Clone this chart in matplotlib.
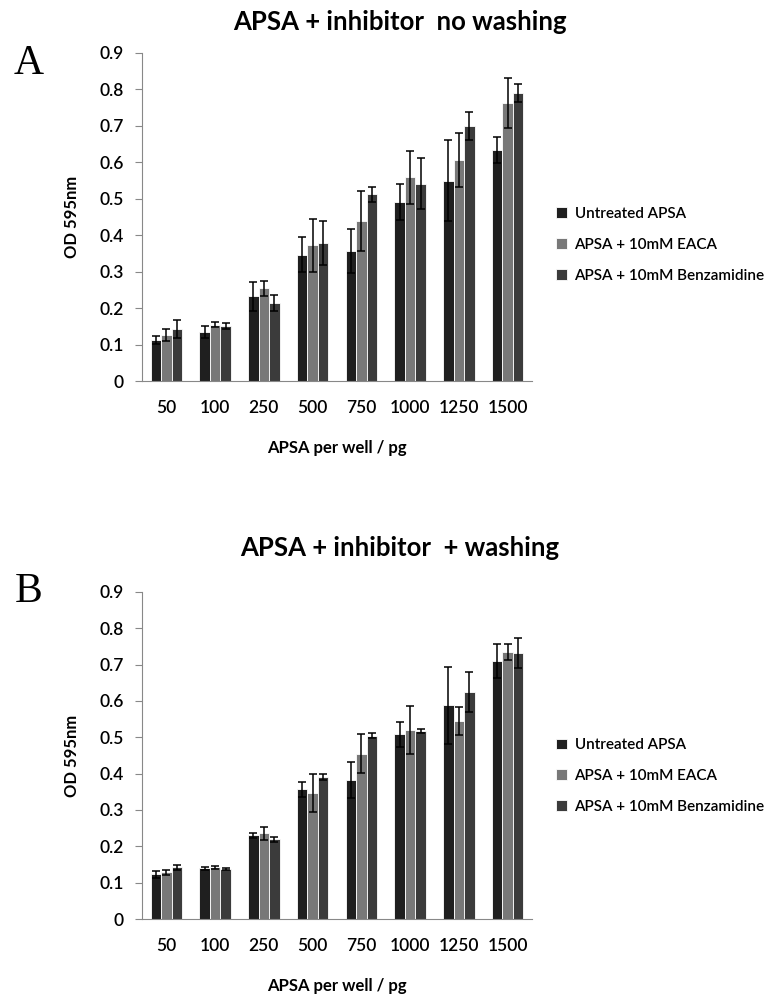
import numpy as np
import matplotlib.pyplot as plt

# dados
doses = ['50', '100', '250', '500', '750', '1000', '1250', '1500']
series = ['Untreated APSA', 'APSA + 10mM EACA', 'APSA + 10mM Benzamidine']
colors = ['#1f1f1f', '#787878', '#3b3b3b']

# painel A: sem lavagem
a_untreated = [0.112, 0.135, 0.233, 0.347, 0.357, 0.491, 0.550, 0.634]
a_eaca = [0.126, 0.155, 0.254, 0.372, 0.439, 0.559, 0.606, 0.763]
a_benz = [0.143, 0.150, 0.214, 0.379, 0.512, 0.541, 0.700, 0.790]
a_untreated_err = [0.011, 0.017, 0.040, 0.049, 0.060, 0.049, 0.112, 0.036]
a_eaca_err = [0.017, 0.006, 0.021, 0.073, 0.083, 0.072, 0.075, 0.069]
a_benz_err = [0.024, 0.008, 0.022, 0.060, 0.021, 0.070, 0.038, 0.024]

# painel B: com lavagem
b_untreated = [0.123, 0.140, 0.230, 0.357, 0.383, 0.508, 0.588, 0.711]
b_eaca = [0.128, 0.142, 0.236, 0.346, 0.455, 0.520, 0.545, 0.734]
b_benz = [0.142, 0.138, 0.219, 0.391, 0.505, 0.517, 0.625, 0.732]
b_untreated_err = [0.009, 0.004, 0.008, 0.020, 0.049, 0.035, 0.105, 0.047]
b_eaca_err = [0.007, 0.004, 0.018, 0.052, 0.054, 0.065, 0.039, 0.022]
b_benz_err = [0.006, 0.003, 0.006, 0.009, 0.008, 0.006, 0.054, 0.042]

plt.rcParams['font.family'] = ['Lato', 'DejaVu Sans']

fig = plt.figure(figsize=(7.64, 10), dpi=100)


def painel(rect, valores, erros, titulo, letra, titulo_y, letra_y, leg_y):
    ax = fig.add_axes(rect)
    x = np.arange(len(doses))
    w = 0.215
    for i, (v, e) in enumerate(zip(valores, erros)):
        ax.bar(x + (i - 1) * w, v, w, yerr=e, color=colors[i], edgecolor='white',
               linewidth=0.6, label=series[i], capsize=2.6,
               error_kw=dict(elinewidth=1.1, capthick=1.1, ecolor='black'))
    ax.set_xlim(-0.5, len(doses) - 0.5)
    ax.set_ylim(0, 0.9)
    ax.set_yticks(np.arange(0, 0.91, 0.1))
    ax.set_yticklabels(['0'] + ['%.1f' % t for t in np.arange(0.1, 0.91, 0.1)])
    ax.set_xticks(x)
    ax.set_xticklabels(doses)
    for s in ['top', 'right']:
        ax.spines[s].set_visible(False)
    ax.spines['left'].set_color('#888888')
    ax.spines['bottom'].set_color('#888888')
    ax.tick_params(axis='y', color='#888888', length=5, labelsize=12.5, pad=8)
    ax.tick_params(axis='x', length=0, labelsize=12.5, pad=14)
    for t in ax.get_xticklabels() + ax.get_yticklabels():
        t.set_fontweight('semibold')
    ax.set_ylabel('OD 595nm', fontsize=12, fontweight='bold', labelpad=14)
    ax.set_xlabel('APSA per well / pg', fontsize=12, fontweight='bold', labelpad=17)
    fig.text(0.523, titulo_y, titulo, fontsize=18.5, fontweight='bold',
             ha='center', va='center')
    fig.text(0.037, letra_y, letra, fontsize=30, family='Liberation Serif',
             ha='center', va='center')
    leg = ax.legend(loc='center left', bbox_to_anchor=(0.72, leg_y),
                    bbox_transform=fig.transFigure, frameon=False, fontsize=11,
                    handlelength=0.7, handleheight=0.7, handletextpad=0.5,
                    labelspacing=1.1, borderaxespad=0)
    for t in leg.get_texts():
        t.set_fontweight('semibold')
    return ax


painel([0.1859, 0.619, 0.5105, 0.328],
       [a_untreated, a_eaca, a_benz],
       [a_untreated_err, a_eaca_err, a_benz_err],
       'APSA + inhibitor  no washing', 'A', 0.978, 0.936, 0.755)
painel([0.1859, 0.081, 0.5105, 0.327],
       [b_untreated, b_eaca, b_benz],
       [b_untreated_err, b_eaca_err, b_benz_err],
       'APSA + inhibitor  + washing', 'B', 0.452, 0.408, 0.224)

fig.savefig('out.png', dpi=100)
